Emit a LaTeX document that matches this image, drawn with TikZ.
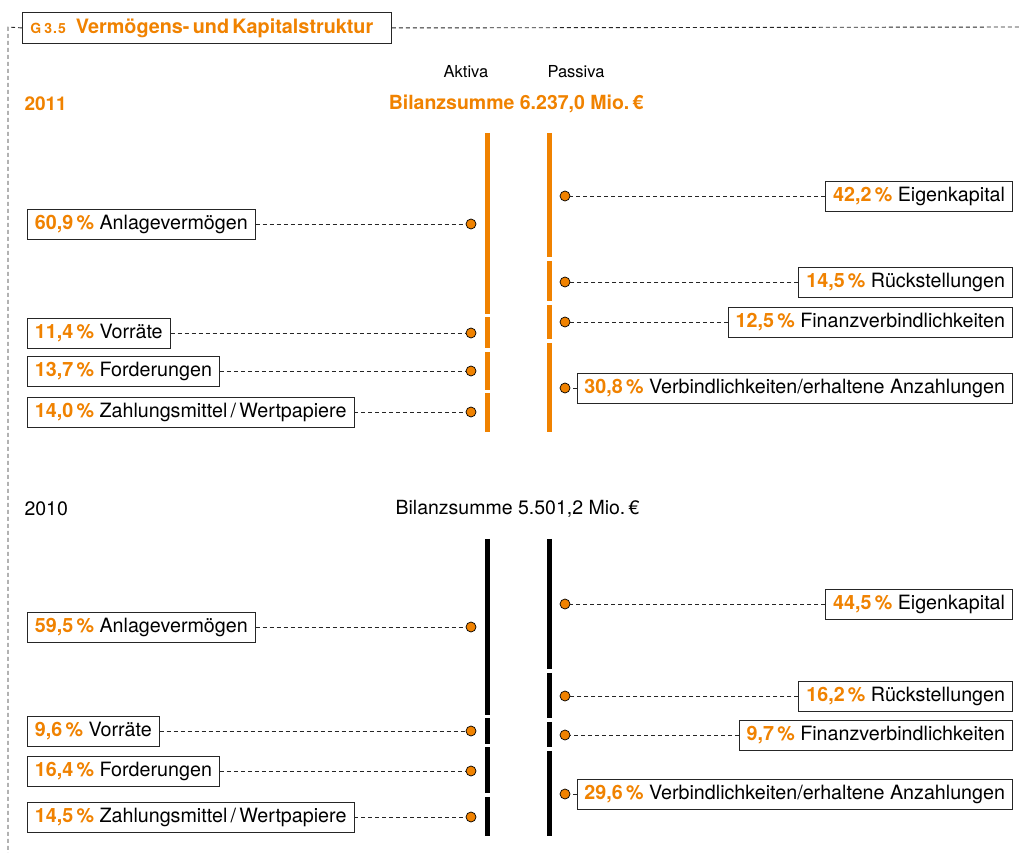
\documentclass[tikz,border=0pt]{standalone}
\usepackage{fontspec}
\setmainfont{TeX Gyre Heros}
\definecolor{bilanzorange}{RGB}{240,130,0}
\newcommand{\pct}[1]{{\color{bilanzorange}\bfseries #1\,\%}}

\begin{document}
\begin{tikzpicture}[x=1pt, y=-1pt]
  \tikzset{labelbox/.style={draw=black!85, line width=0.9pt, fill=white, inner xsep=7.5pt,
             minimum height=30pt, font=\fontsize{19.7}{21}\selectfont},
           dot/.style={circle, draw=black, line width=0.7pt, fill=bilanzorange,
             minimum size=10pt, inner sep=0pt},
           leader/.style={draw=black!85, line width=0.9pt, dash pattern=on 4pt off 3pt},
           frameline/.style={draw=black!85, line width=0.9pt, dash pattern=on 4pt off 3pt},
           bar11/.style={draw=bilanzorange, line width=5.3pt},
           bar10/.style={draw=black, line width=5.3pt},
           headtext/.style={font=\fontsize{19.5}{20}\selectfont}}
  \useasboundingbox (0,0) rectangle (1019,853);

  % title and frame
  \node[draw=black!85, line width=0.9pt, fill=white, anchor=north west, minimum height=31pt,
        text width=353pt, align=left, inner xsep=8pt, text=bilanzorange] (title) at (22,12)
        {{\fontsize{14}{14}\bfseries G\hspace{3pt}3\hspace{1pt}.\hspace{1pt}5}\hspace{10pt}{\fontsize{19.8}{20}\bfseries Vermögens- und Kapitalstruktur}};
  \coordinate (frame-corner) at (8,27);
  \coordinate (frame-bottom) at (8,853);
  \coordinate (frame-right) at (1019,27);
  \draw[frameline] (title.west) -- (frame-corner) -- (frame-bottom);
  \draw[frameline] (title.east) -- (frame-right);

  \node[font=\fontsize{16.5}{17}\selectfont] (aktiva) at (466,72) {Aktiva};
  \node[font=\fontsize{16.5}{17}\selectfont] (passiva) at (576,72) {Passiva};

  % 2011
  \node[anchor=west, text=bilanzorange, font=\fontsize{19}{20}\bfseries] (year11) at (21,104) {2011};
  \node[anchor=east, text=bilanzorange, font=\fontsize{19.5}{20}\bfseries] (sum11) at (647,104) {Bilanzsumme 6.237,0 Mio.\,€};
  \foreach \a/\b in {131/315.5, 315.5/350, 350/391.5, 391.5/434}
    \draw[bar11] (487.5,\a+1.8) -- (487.5,\b-1.8);
  \foreach \a/\b in {131/259, 259/303, 303/341, 341/434}
    \draw[bar11] (549.5,\a+1.8) -- (549.5,\b-1.8);

  \node[dot] (ak11a) at (471,224) {};
  \node[dot] (ak11b) at (471,333) {};
  \node[dot] (ak11c) at (471,371) {};
  \node[dot] (ak11d) at (471,412) {};
  \node[dot] (pa11a) at (565,196) {};
  \node[dot] (pa11b) at (565,282) {};
  \node[dot] (pa11c) at (565,322) {};
  \node[dot] (pa11d) at (565,388) {};

  \node[labelbox, anchor=west] (ak11a-box) at (27,224) {\pct{60,9} Anlagevermögen};
  \node[labelbox, anchor=west] (ak11b-box) at (27,333) {\pct{11,4} Vorräte};
  \node[labelbox, anchor=west] (ak11c-box) at (27,371) {\pct{13,7} Forderungen};
  \node[labelbox, anchor=west] (ak11d-box) at (27,412) {\pct{14,0} Zahlungsmittel\,/\,Wertpapiere};
  \node[labelbox, anchor=east] (pa11a-box) at (1013,196) {\pct{42,2} Eigenkapital};
  \node[labelbox, anchor=east] (pa11b-box) at (1013,282) {\pct{14,5} Rückstellungen};
  \node[labelbox, anchor=east] (pa11c-box) at (1013,322) {\pct{12,5} Finanzverbindlichkeiten};
  \node[labelbox, anchor=east] (pa11d-box) at (1013,388) {\pct{30,8} Verbindlichkeiten/erhaltene Anzahlungen};

  \foreach \n in {ak11a, ak11b, ak11c, ak11d, pa11a, pa11b, pa11c, pa11d}
    \draw[leader] (\n-box) -- (\n);

  % 2010
  \node[headtext, anchor=west] (year10) at (21,509) {2010};
  \node[headtext, anchor=east] (sum10) at (643,509) {Bilanzsumme 5.501,2 Mio.\,€};
  \foreach \a/\b in {537/716.5, 716.5/745.5, 745.5/795, 795/838}
    \draw[bar10] (487.5,\a+1.8) -- (487.5,\b-1.8);
  \foreach \a/\b in {537/671, 671/720, 720/749, 749/838}
    \draw[bar10] (549.5,\a+1.8) -- (549.5,\b-1.8);

  \node[dot] (ak10a) at (471,627) {};
  \node[dot] (ak10b) at (471,731) {};
  \node[dot] (ak10c) at (471,771) {};
  \node[dot] (ak10d) at (471,817) {};
  \node[dot] (pa10a) at (565,604) {};
  \node[dot] (pa10b) at (565,696) {};
  \node[dot] (pa10c) at (565,735) {};
  \node[dot] (pa10d) at (565,794) {};

  \node[labelbox, anchor=west] (ak10a-box) at (27,627) {\pct{59,5} Anlagevermögen};
  \node[labelbox, anchor=west] (ak10b-box) at (27,731) {\pct{9,6} Vorräte};
  \node[labelbox, anchor=west] (ak10c-box) at (27,771) {\pct{16,4} Forderungen};
  \node[labelbox, anchor=west] (ak10d-box) at (27,817) {\pct{14,5} Zahlungsmittel\,/\,Wertpapiere};
  \node[labelbox, anchor=east] (pa10a-box) at (1013,604) {\pct{44,5} Eigenkapital};
  \node[labelbox, anchor=east] (pa10b-box) at (1013,696) {\pct{16,2} Rückstellungen};
  \node[labelbox, anchor=east] (pa10c-box) at (1013,735) {\pct{9,7} Finanzverbindlichkeiten};
  \node[labelbox, anchor=east] (pa10d-box) at (1013,794) {\pct{29,6} Verbindlichkeiten/erhaltene Anzahlungen};

  \foreach \n in {ak10a, ak10b, ak10c, ak10d, pa10a, pa10b, pa10c, pa10d}
    \draw[leader] (\n-box) -- (\n);
\end{tikzpicture}
\end{document}
